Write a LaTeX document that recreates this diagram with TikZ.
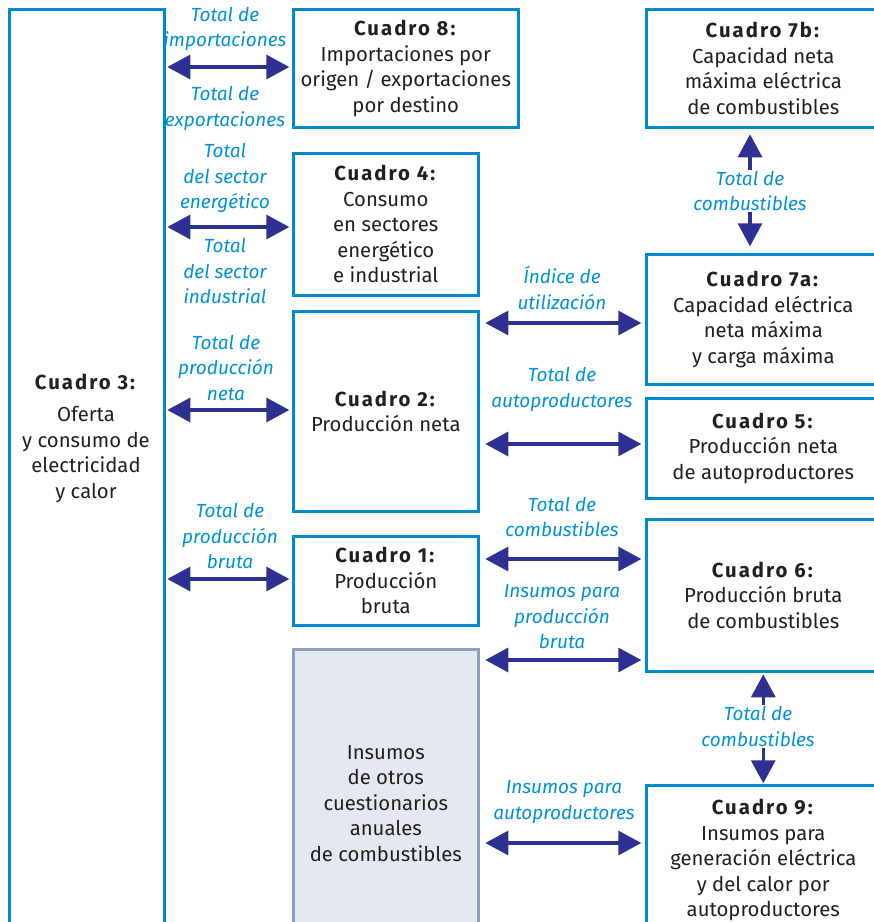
\documentclass[tikz,border=0pt]{standalone}
\usepackage{fontspec}
\setmainfont[BoldFeatures={LetterSpace=10}]{Fira Sans}
\usetikzlibrary{arrows.meta}

\definecolor{boxblue}{RGB}{0,137,207}
\definecolor{lblblue}{RGB}{0,145,215}
\definecolor{navy}{RGB}{46,49,146}
\definecolor{greyfill}{RGB}{228,232,240}
\definecolor{greyline}{RGB}{143,160,190}
\definecolor{ink}{RGB}{35,31,32}

\tikzset{
  box/.style={draw=boxblue, line width=2.6pt, fill=white, anchor=north west,
    align=center, inner sep=0pt, text=ink, font=\fontsize{20.3}{25.5}\selectfont},
  greybox/.style={box, draw=greyline, fill=greyfill},
  lbl/.style={text=lblblue, align=center, inner sep=1pt,
    font=\fontsize{19}{25.5}\selectfont\itshape},
  dblarrow/.style={draw=navy, line width=3.2pt,
    {Triangle[length=23pt,width=24pt]}-{Triangle[length=23pt,width=24pt]}},
  onearrow/.style={draw=navy, line width=3.2pt, -{Triangle[length=23pt,width=24pt]}}
}

\begin{document}
\begin{tikzpicture}[x=1pt, y=-1pt]
  \useasboundingbox (0,0) rectangle (874,922);
  \clip (0,0) rectangle (874,922);

  % left column: Cuadro 3
  \node[box, minimum width=155pt, minimum height=1000pt] (c3) at (8,8) {};
  \node[text=ink, align=center, font=\fontsize{20.3}{25.5}\selectfont] (c3txt) at (86,438)
    {\textbf{Cuadro 3:}\\[7pt]Oferta\\y consumo de\\electricidad\\y calor};

  % middle column
  \node[box, minimum width=225pt, minimum height=118pt] (c8) at (292,8)
    {\textbf{Cuadro 8:}\\Importaciones por\\origen / exportaciones\\por destino};
  \node[box, minimum width=185pt, minimum height=142pt] (c4) at (292,152)
    {\textbf{Cuadro 4:}\\Consumo\\en sectores\\energético\\e industrial};
  \node[box, minimum width=185pt, minimum height=200pt] (c2) at (292,310)
    {\textbf{Cuadro 2:}\\Producción neta};
  \node[box, minimum width=185pt, minimum height=89pt] (c1) at (292,535)
    {\textbf{Cuadro 1:}\\Producción\\bruta};
  \node[greybox, minimum width=185pt, minimum height=308pt] (grey) at (292,648)
    {Insumos\\de otros\\cuestionarios\\anuales\\de combustibles};

  % right column
  \node[box, minimum width=234pt, minimum height=118pt] (c7b) at (645,8)
    {\textbf{Cuadro 7b:}\\Capacidad neta\\máxima eléctrica\\de combustibles};
  \node[box, minimum width=234pt, minimum height=130pt] (c7a) at (645,253)
    {\textbf{Cuadro 7a:}\\Capacidad eléctrica\\neta máxima\\y carga máxima};
  \node[box, minimum width=234pt, minimum height=100pt] (c5) at (645,397)
    {\textbf{Cuadro 5:}\\Producción neta\\de autoproductores};
  \node[box, minimum width=234pt, minimum height=152pt] (c6) at (645,518)
    {\textbf{Cuadro 6:}\\Producción bruta\\de combustibles};
  \node[box, minimum width=234pt, minimum height=150pt] (c9) at (645,784)
    {\textbf{Cuadro 9:}\\Insumos para\\generación eléctrica\\y del calor por\\autoproductores};

  % labels
  \node[lbl] (limp) at (225,29) {Total de\\importaciones};
  \node[lbl] (lexp) at (225,108.5) {Total de\\exportaciones};
  \node[lbl] (lene) at (225,178) {Total\\del sector\\energético};
  \node[lbl] (lind) at (225,271) {Total\\del sector\\industrial};
  \node[lbl] (lneta) at (226,367.5) {Total de\\producción\\neta};
  \node[lbl] (lbruta) at (230,536) {Total de\\producción\\bruta};
  \node[lbl] (lutil) at (562,288) {Índice de\\utilización};
  \node[lbl] (lauto) at (562,389.5) {Total de\\autoproductores};
  \node[lbl] (lcomb) at (562,517) {Total de\\combustibles};
  \node[lbl] (linsb) at (562,617) {Insumos para\\producción\\bruta};
  \node[lbl] (linsa) at (564,802) {Insumos para\\autoproductores};
  \node[lbl] (lcombtop) at (750,191) {Total de\\combustibles};
  \node[lbl] (lcombbot) at (758,726.5) {Total de\\combustibles};

  % arrows to Cuadro 3
  \draw[dblarrow, shorten <=1.7pt, shorten >=2.7pt] (c3.east |- 0,67) -- (c8.west |- 0,67);
  \draw[dblarrow, shorten <=1.7pt, shorten >=2.7pt] (c3.east |- 0,227) -- (c4.west |- 0,227);
  \draw[dblarrow, shorten <=1.7pt, shorten >=2.7pt] (c3.east |- 0,410) -- (c2.west |- 0,410);
  \draw[dblarrow, shorten <=1.7pt, shorten >=2.7pt] (c3.east |- 0,579) -- (c1.west |- 0,579);

  % arrows to the right column
  \draw[dblarrow, shorten <=5.7pt, shorten >=3.7pt] (c2.east |- 0,323) -- (c7a.west |- 0,323);
  \draw[dblarrow, shorten <=5.7pt, shorten >=3.7pt] (c2.east |- 0,444) -- (c5.west |- 0,444);
  \draw[dblarrow, shorten <=5.7pt, shorten >=3.7pt] (c1.east |- 0,559) -- (c6.west |- 0,559);
  \draw[dblarrow, shorten <=5.7pt, shorten >=3.7pt] (grey.east |- 0,660) -- (c6.west |- 0,660);
  \draw[dblarrow, shorten <=5.7pt, shorten >=3.7pt] (grey.east |- 0,843) -- (c9.west |- 0,843);

  % vertical arrows
  \draw[onearrow, shorten >=5.7pt] (lcombtop.north) -- (lcombtop.north |- c7b.south);
  \draw[onearrow, shorten >=6.7pt] (lcombtop.south) -- (lcombtop.south |- c7a.north);
  \draw[onearrow, shorten >=1.7pt] (c9.north |- lcombbot.north) -- (c6.south);
  \draw[onearrow, shorten >=0.7pt] (c9.north |- lcombbot.south) -- (c9.north);
\end{tikzpicture}
\end{document}
